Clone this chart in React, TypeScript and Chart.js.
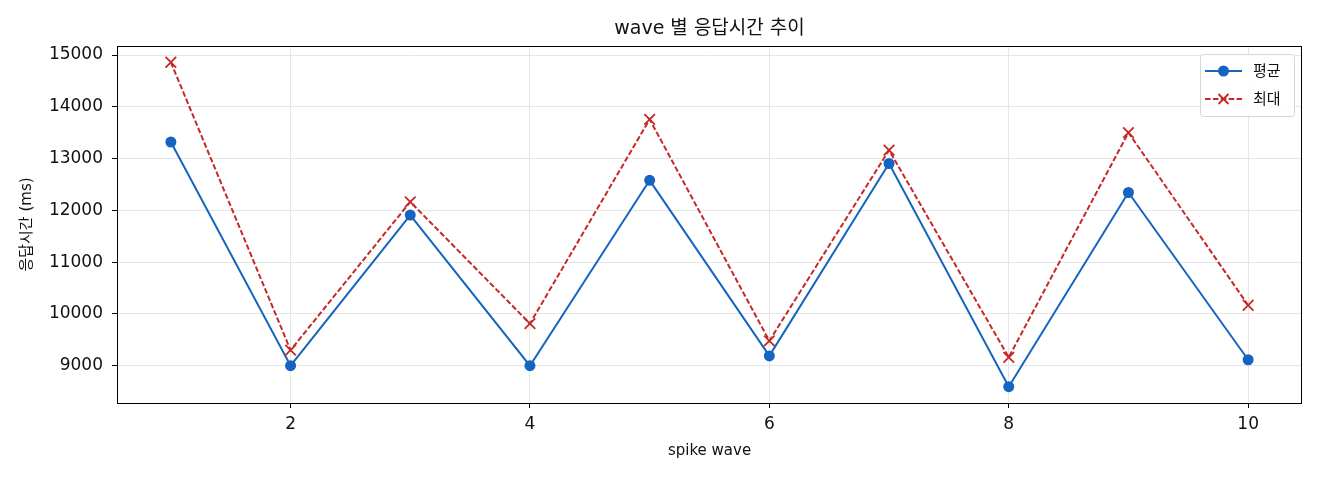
import { useEffect, useRef } from 'react'
import { Chart, registerables } from 'chart.js'

Chart.register(...registerables)

const WAVES = [1, 2, 3, 4, 5, 6, 7, 8, 9, 10]
const AVG_MS = [13320, 9000, 11910, 9000, 12580, 9190, 12905, 8595, 12345, 9115]
const MAX_MS = [14860, 9300, 12165, 9812, 13758, 9480, 13162, 9162, 13502, 10168]
const Y_TICKS = [9000, 10000, 11000, 12000, 13000, 14000, 15000]
const X_TICKS = [2, 4, 6, 8, 10]
const TITLE = 'wave 별 응답시간 추이'

const BLUE = '#1565C0'
const RED = '#C62828'
const FONT = '"DejaVu Sans", "Noto Sans CJK KR", sans-serif'

const framePlugin = {
  id: 'frame',
  afterDraw(chart: any) {
    const { ctx, chartArea: a } = chart
    ctx.save()
    ctx.strokeStyle = '#000'
    ctx.lineWidth = 1
    ctx.strokeRect(Math.round(a.left) + 0.5, Math.round(a.top) + 0.5, Math.round(a.right - a.left) - 1, Math.round(a.bottom - a.top))

    // title centred over the plot area
    ctx.fillStyle = '#111'
    ctx.font = '19px ' + FONT
    ctx.textAlign = 'center'
    ctx.textBaseline = 'middle'
    ctx.fillText(TITLE, (a.left + a.right) / 2, 29)

    // legend, matplotlib style
    const w = 94
    const h = 62
    const x0 = a.right - 8 - w
    const y0 = a.top + 8
    ctx.beginPath()
    ctx.roundRect(x0 + 0.5, y0 + 0.5, w, h, 3)
    ctx.fillStyle = 'rgba(255,255,255,0.85)'
    ctx.fill()
    ctx.strokeStyle = '#d6d6d6'
    ctx.stroke()

    const sets = chart.data.datasets
    sets.forEach((ds: any, i: number) => {
      const cy = y0 + 17 + i * 28
      const lx = x0 + 5
      const mx = lx + 18.5
      ctx.strokeStyle = ds.borderColor
      ctx.lineWidth = 2
      ctx.setLineDash(ds.borderDash || [])
      ctx.beginPath()
      ctx.moveTo(lx, cy)
      ctx.lineTo(lx + 37, cy)
      ctx.stroke()
      ctx.setLineDash([])
      if (ds.pointStyle === 'crossRot') {
        ctx.lineWidth = 1.8
        ctx.beginPath()
        ctx.moveTo(mx - 5, cy - 5)
        ctx.lineTo(mx + 5, cy + 5)
        ctx.moveTo(mx + 5, cy - 5)
        ctx.lineTo(mx - 5, cy + 5)
        ctx.stroke()
      } else {
        ctx.fillStyle = ds.borderColor
        ctx.beginPath()
        ctx.arc(mx, cy, 5.5, 0, Math.PI * 2)
        ctx.fill()
      }
      ctx.fillStyle = '#111'
      ctx.font = '15px ' + FONT
      ctx.textBaseline = 'middle'
      ctx.textAlign = 'left'
      ctx.fillText(ds.label, x0 + 53, cy + 1)
    })
    ctx.restore()
  },
}

export default function App() {
  const ref = useRef<HTMLCanvasElement>(null)

  useEffect(() => {
    document.body.style.margin = '0'
    if (!ref.current) return
    const chart = new Chart(ref.current, {
      type: 'line',
      data: {
        datasets: [
          {
            label: '평균',
            data: WAVES.map((w, i) => ({ x: w, y: AVG_MS[i] })),
            borderColor: BLUE,
            backgroundColor: BLUE,
            borderWidth: 2,
            pointRadius: 5.5,
            pointBorderWidth: 0,
            pointStyle: 'circle',
            order: 1,
          },
          {
            label: '최대',
            data: WAVES.map((w, i) => ({ x: w, y: MAX_MS[i] })),
            borderColor: RED,
            backgroundColor: RED,
            borderWidth: 2,
            borderDash: [5.5, 2.4],
            pointRadius: 7.5,
            pointBorderWidth: 1.8,
            pointStyle: 'crossRot',
            order: 0,
          },
        ],
      },
      options: {
        animation: false,
        responsive: true,
        maintainAspectRatio: false,
        layout: { padding: { right: 18, left: 0, top: 46, bottom: 0 } },
        plugins: {
          legend: { display: false },
          tooltip: { enabled: false },
          title: { display: false },
        },
        scales: {
          x: {
            type: 'linear',
            min: 0.55,
            max: 10.45,
            afterBuildTicks: (s: any) => {
              s.ticks = X_TICKS.map((v) => ({ value: v }))
            },
            afterFit: (s: any) => {
              s.height = 77
            },
            border: { display: false },
            grid: { color: '#e6e6e6', tickColor: '#000', tickLength: 5, lineWidth: 1 },
            ticks: { color: '#111', padding: 6, maxRotation: 0, font: { family: FONT, size: 17 } },
            title: {
              display: true,
              text: 'spike wave',
              color: '#111',
              font: { family: FONT, size: 15 },
              padding: { top: 20, bottom: 20 },
            },
          },
          y: {
            type: 'linear',
            min: 8280,
            max: 15174,
            afterBuildTicks: (s: any) => {
              s.ticks = Y_TICKS.map((v) => ({ value: v }))
            },
            afterFit: (s: any) => {
              s.width = 117
            },
            border: { display: false },
            grid: { color: '#e6e6e6', tickColor: '#000', tickLength: 5, lineWidth: 1 },
            ticks: { color: '#111', padding: 9, font: { family: FONT, size: 17 }, callback: (v: any) => String(v) },
            title: {
              display: true,
              text: '응답시간 (ms)',
              color: '#111',
              font: { family: FONT, size: 15 },
              padding: { top: 18, bottom: 18 },
            },
          },
        },
      },
      plugins: [framePlugin],
    })
    return () => chart.destroy()
  }, [])

  return (
    <div style={{ width: 1320, height: 480, background: '#fff' }}>
      <canvas ref={ref} />
    </div>
  )
}
